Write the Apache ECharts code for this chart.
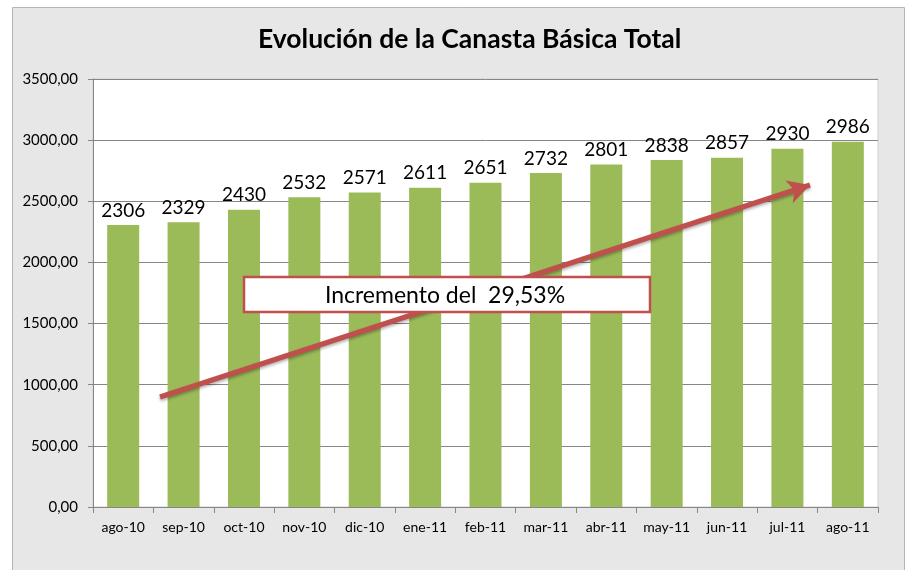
<!DOCTYPE html>
<html>
<head>
<meta charset="utf-8">
<script src="https://cdn.jsdelivr.net/npm/echarts@6/dist/echarts.min.js"></script>
<style>
  html, body { margin: 0; padding: 0; background: #fff; }
  #main { width: 907px; height: 570px; }
</style>
</head>
<body>
<div id="main"></div>
<script>
var meses = ['ago-10', 'sep-10', 'oct-10', 'nov-10', 'dic-10', 'ene-11', 'feb-11',
  'mar-11', 'abr-11', 'may-11', 'jun-11', 'jul-11', 'ago-11'];
var canasta = [2306, 2329, 2430, 2532, 2571, 2611, 2651, 2732, 2801, 2838, 2857, 2930, 2986];
var titulo = 'Evolución de la Canasta Básica Total';
var nota = 'Incremento del  29,53%';

var chart = echarts.init(document.getElementById('main'));
var fuente = 'Lato, "Open Sans", sans-serif';

var option = {
  backgroundColor: '#fff',
  animation: false,
  textStyle: { fontFamily: fuente },
  title: {
    text: titulo,
    left: 253,
    top: 21,
    textStyle: { fontSize: 26.5, fontWeight: 'bold', color: '#000', fontFamily: fuente }
  },
  graphic: [
    {
      type: 'rect', z: -10, silent: true,
      shape: { x: 12.5, y: 7.5, width: 892, height: 575 },
      style: { fill: '#e7e7e7', stroke: '#b5b5b5', lineWidth: 1 }
    },
    // cuadro de texto (encima de barras y flecha)
    {
      type: 'rect', z: 100, zlevel: 1,
      shape: { x: 244, y: 277, width: 406, height: 35 },
      style: { fill: '#fff', stroke: '#c0504d', lineWidth: 2.5 }
    },
    {
      type: 'text', z: 101, zlevel: 1,
      x: 445, y: 296,
      style: {
        text: nota, align: 'center', verticalAlign: 'middle',
        font: '23px ' + fuente, fill: '#000'
      }
    }
  ],
  grid: {
    left: 93, right: 29, top: 79, bottom: 63,
    show: true, backgroundColor: '#fff', borderColor: '#d0d0d0', borderWidth: 1
  },
  xAxis: {
    type: 'category',
    data: meses,
    axisLine: { lineStyle: { color: '#868686' } },
    axisTick: { show: true, interval: 0, length: 6, lineStyle: { color: '#868686' } },
    axisLabel: { color: '#000', fontSize: 14, margin: 13, interval: 0 }
  },
  yAxis: {
    type: 'value',
    min: 0, max: 3500, interval: 500,
    axisLine: { show: true, lineStyle: { color: '#868686' } },
    axisTick: { show: true, length: 5, lineStyle: { color: '#868686' } },
    axisLabel: {
      color: '#000', fontSize: 15, margin: 15,
      formatter: function (v) { return v.toFixed(2).replace('.', ','); }
    },
    splitLine: { lineStyle: { color: '#868686' } }
  },
  series: [{
    type: 'bar',
    data: canasta,
    barWidth: '53%',
    itemStyle: { color: '#9bbb59' },
    label: { show: true, position: 'top', color: '#000', fontSize: 19, distance: 5 },
    markLine: {
      silent: true,
      symbol: ['none', 'arrow'],
      symbolSize: [18, 22],
      label: { show: false },
      lineStyle: {
        color: '#c0504d', width: 5, type: 'solid',
        shadowColor: 'rgba(0,0,0,0.3)', shadowBlur: 3, shadowOffsetY: 2
      },
      data: [[{ x: 160, y: 397 }, { x: 810, y: 185 }]]
    }
  }]
};
chart.setOption(option);
</script>
</body>
</html>
